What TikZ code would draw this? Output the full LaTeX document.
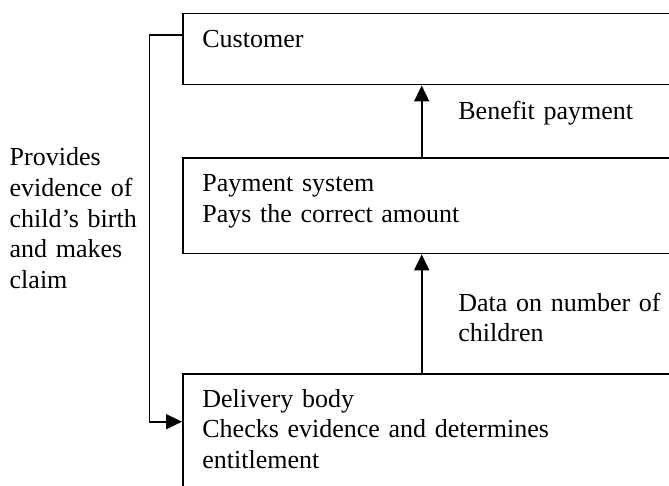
\documentclass[tikz,border=0pt]{standalone}
\usepackage{fontspec}
\setmainfont{Liberation Serif}
\usetikzlibrary{positioning,arrows.meta}

\begin{document}
\begin{tikzpicture}[
  x=0.5pt, y=-0.5pt,
  box/.style={draw, line width=0.9pt, anchor=north west, minimum width=259pt, inner sep=0pt},
  txt/.style={anchor=base west, inner sep=0pt, text width=200pt, align=left,
    font=\fontsize{13}{15.3}\selectfont},
  arr/.style={-{Triangle[length=8pt, width=7.5pt]}, line width=0.9pt}
]
\clip (0,0) rectangle (669,486);

% the three boxes, cut off at the right edge
\node[box, minimum height=35.5pt] (cust) at (182,12.7) {};
\node[box, minimum height=47.8pt] (pay) at (182,157) {};
\node[box, minimum height=75pt] (deliv) at (182,372.7) {};

\node[txt] (custtxt) at ([shift={(20,35)}]cust.north west) {Customer};
\node[txt] (paytxt) at ([shift={(20,34.7)}]pay.north west) {Payment system\\Pays the correct amount};
\node[txt] (delivtxt) at ([shift={(20,34.6)}]deliv.north west) {Delivery body\\Checks evidence and determines\\entitlement};

% flow labels
\node[txt] (benefit) at (458,119.3) {Benefit payment};
\node[txt] (data) at (458,311) {Data on number of\\children};
\node[txt, text width=70pt] (claim) at (9.3,166) {Provides\\evidence of\\child’s birth\\and makes\\claim};

\draw[arr] ([shift={(239.7,0)}]pay.north west) -- ([shift={(239.7,0)}]cust.south west);
\draw[arr] ([shift={(239.7,0)}]deliv.north west) -- ([shift={(239.7,0)}]pay.south west);
\draw[arr] ([shift={(0,22.3)}]cust.north west) -- ++(-32.5,0) |- ([shift={(0,49)}]deliv.north west);
\end{tikzpicture}
\end{document}
